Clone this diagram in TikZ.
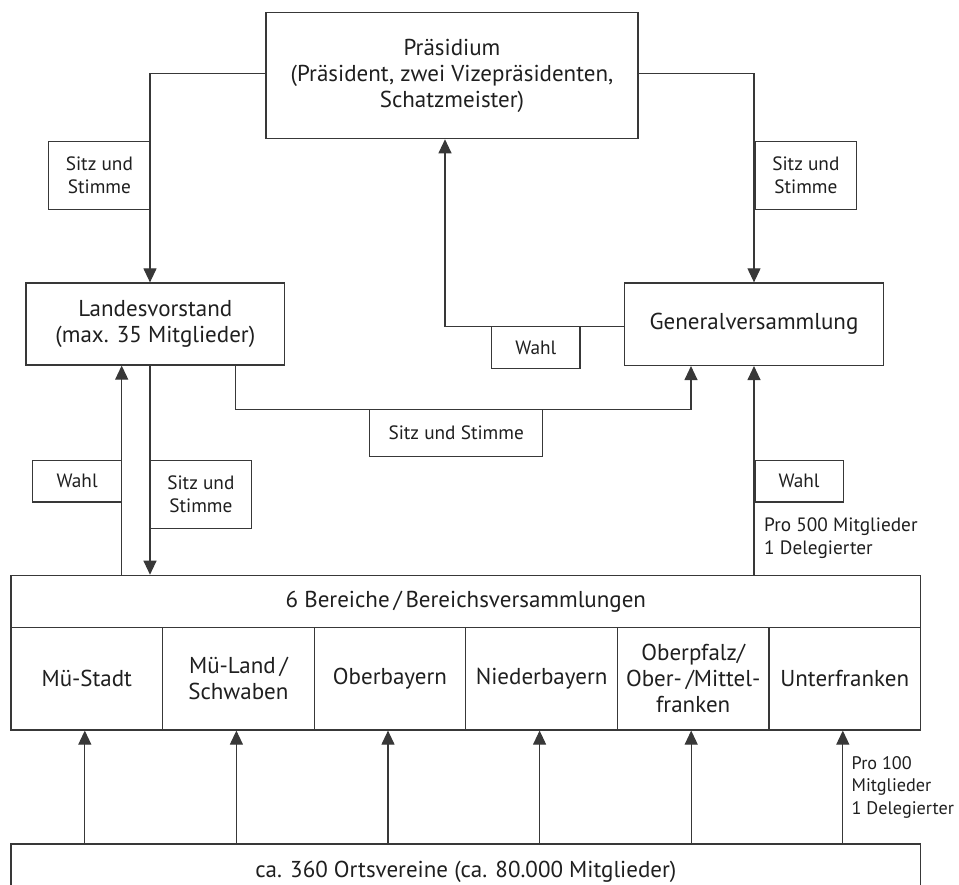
\documentclass[tikz,border=0pt]{standalone}
\usepackage{fontspec}
\setmainfont{PT Sans}
\usetikzlibrary{arrows.meta}
\definecolor{ln}{gray}{0.22}
\definecolor{tx}{gray}{0.12}
\tikzset{
  box/.style={draw=ln, line width=1.2pt, inner sep=0pt, align=center, text=tx,
              font=\fontsize{23}{26}\selectfont},
  lab/.style={draw=ln, line width=1.1pt, inner sep=0pt, align=center, text=tx,
              font=\fontsize{19.3}{23}\selectfont},
  note/.style={inner sep=0pt, align=left, anchor=west, text=tx,
              font=\fontsize{19.3}{22.7}\selectfont},
  conn/.style={draw=ln, line width=1.1pt},
  arr/.style={conn, -{Triangle[length=14pt,width=13pt]}},
}
\begin{document}
\begin{tikzpicture}[x=1pt,y=-1pt]
\useasboundingbox (0,0) rectangle (959,885);
\clip (0,0) rectangle (959,885);
% main boxes
\node[box, minimum width=372pt, minimum height=126.4pt] (praes) at (452,75.5)
  {Präsidium\\(Präsident, zwei Vizepräsidenten,\\Schatzmeister)};
\node[box, minimum width=258.7pt, minimum height=82pt] (lv) at (155.3,324)
  {Landesvorstand\\(max. 35 Mitglieder)};
\node[box, minimum width=259pt, minimum height=82.5pt] (gv) at (754,324.2)
  {Generalversammlung};
\node[box, minimum width=909.7pt, minimum height=52.4pt] (ber) at (465.85,601.5)
  {6 Bereiche\,/\,Bereichsversammlungen};
\node[box, minimum width=151.6pt, minimum height=102.3pt] (c1) at (86.8,678.85) {Mü-Stadt};
\node[box, minimum width=151.6pt, minimum height=102.3pt] (c2) at (238.4,678.85) {Mü-Land\,/\\Schwaben};
\node[box, minimum width=151.6pt, minimum height=102.3pt] (c3) at (390.0,678.85) {Oberbayern};
\node[box, minimum width=151.6pt, minimum height=102.3pt] (c4) at (541.6,678.85) {Niederbayern};
\node[box, minimum width=151.6pt, minimum height=102.3pt] (c5) at (693.2,678.85) {Oberpfalz/\\Ober-\,/Mittel-\\franken};
\node[box, minimum width=151.6pt, minimum height=102.3pt] (c6) at (844.8,678.85) {Unterfranken};
\node[box, minimum width=909.7pt, minimum height=56pt] (ov) at (465.85,872)
  {ca. 360 Ortsvereine (ca. 80.000 Mitglieder)};
% connectors
\draw[arr] ([yshift=1.8pt]praes.west) -| (150,0 |- lv.north);
\draw[arr] ([yshift=1.8pt]praes.east) -| (gv.north);
\draw[arr] ([yshift=-2.5pt]gv.west) -| ([xshift=-7pt]praes.south);
\draw[arr] (235.3,0 |- lv.south) -- (235.3,409.3) -| (691,0 |- gv.south);
\draw[arr] (121.7,0 |- ber.north) -- (121.7,0 |- lv.south);
\draw[arr] (150,0 |- lv.south) -- (150,0 |- ber.north);
\draw[arr] (ber.north -| gv.south) -- (gv.south);
\foreach \c in {c1,c2,c3,c4,c5,c6}
  \draw[arr] ([xshift=-2pt]\c.south |- ov.north) -- ([xshift=-2pt]\c.south);
% labels
\node[lab, fill=white, minimum width=101.3pt, minimum height=67.6pt] (l1) at (99.35,175.5) {Sitz und\\Stimme};
\node[lab, fill=white, minimum width=101.7pt, minimum height=67.6pt] (l2) at (805.85,175.5) {Sitz und\\Stimme};
\node[lab, fill=white, minimum width=88.3pt, minimum height=41.6pt] (w1) at (535.85,347.5) {Wahl};
\node[lab, fill=white, minimum width=173pt, minimum height=47.4pt] (s1) at (456.2,433) {Sitz und Stimme};
\node[lab, fill=white, minimum width=89pt, minimum height=41.7pt] (w2) at (77.2,481.15) {Wahl};
\node[lab, fill=white, minimum width=101.7pt, minimum height=68pt] (s2) at (200.85,494.3) {Sitz und\\Stimme};
\node[lab, fill=white, minimum width=88.3pt, minimum height=41.7pt] (w3) at (799.15,481.15) {Wahl};
\node[note] (n1) at (764,538) {Pro 500 Mitglieder\\1 Delegierter};
\node[note, font=\fontsize{18.2}{22.7}\selectfont] (n2) at (851.5,787.2) {Pro 100\\Mitglieder\\1 Delegierter};
\end{tikzpicture}
\end{document}
